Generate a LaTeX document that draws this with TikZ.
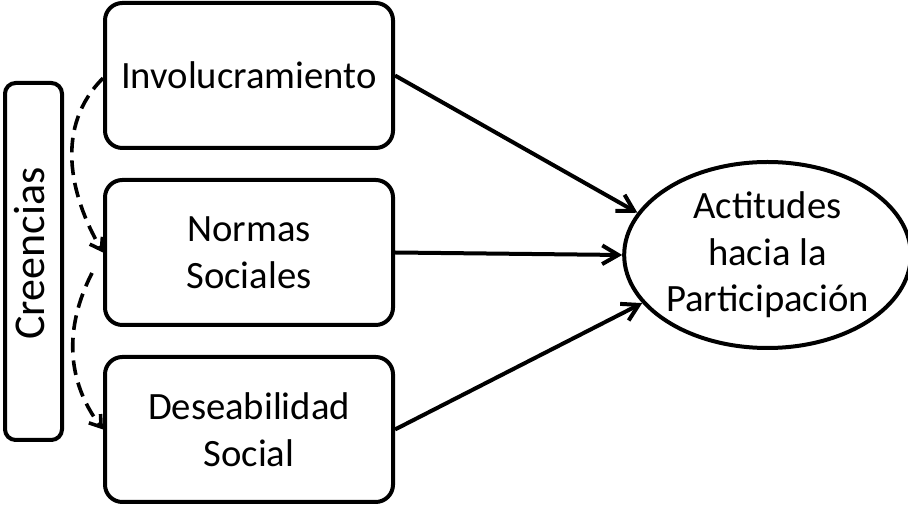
\documentclass[tikz,border=0pt]{standalone}
\usepackage{fontspec}
\setmainfont{Carlito}
\usetikzlibrary{arrows.meta,shapes.geometric}
\tikzset{
  boxstyle/.style={draw=black, line width=3pt, rounded corners=13pt, fill=white,
    minimum width=216pt, minimum height=108.75pt, align=center, inner sep=0pt,
    font=\fontsize{29}{35}\selectfont},
  credbox/.style={draw=black, line width=3pt, rounded corners=8pt,
    minimum width=267.75pt, minimum height=42.75pt, rotate=90, inner sep=0pt},
  credtext/.style={rotate=90, inner sep=0pt, font=\fontsize{33}{40}\selectfont},
  ellstyle/.style={draw=black, line width=3pt, ellipse, minimum width=206.25pt,
    minimum height=139.5pt, inner sep=0pt, align=center,
    font=\fontsize{29}{35}\selectfont},
  solidarrow/.style={line width=3pt, -{Straight Barb[length=12pt,width=14pt,line width=3pt]}},
  dasharrow/.style={line width=2.7pt, dash pattern=on 11pt off 6pt,
    -{Straight Barb[length=8pt,width=11pt,line width=2.7pt]}}
}
\begin{document}
\begin{tikzpicture}[x=0.75pt,y=-0.75pt]
\useasboundingbox (0,0) rectangle (908,505);
\node[boxstyle] (inv) at (249,75.5) {Involucramiento};
\node[boxstyle] (nor) at (249,252.5) {Normas\\Sociales};
\node[boxstyle] (des) at (249,429.5) {Deseabilidad\\Social};
\node[credbox] (cre) at (33.5,261.5) {};
\node[credtext] (cretxt) at (30,253.5) {Creencias};
\node[ellstyle] (att) at (767.5,255) {Actitudes\\hacia la\\Participación};
\draw[solidarrow] (inv.east) -- (att.162);
\draw[solidarrow] (nor.east) -- (att.180);
\draw[solidarrow] (des.east) -- (att.201);
\coordinate (c2) at (92,273);
\draw[dasharrow] ([yshift=-2pt]inv.west) to[out=225,in=120] (nor.west);
\draw[dasharrow] (c2) to[out=243,in=127] (des.west);
\end{tikzpicture}
\end{document}
